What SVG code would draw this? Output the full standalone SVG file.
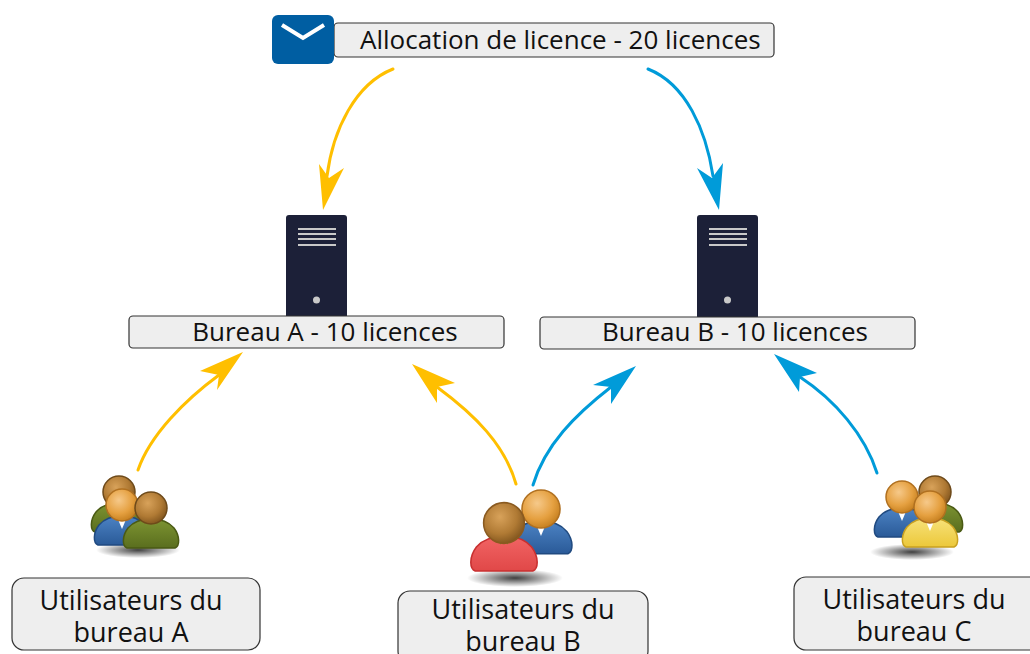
<svg xmlns="http://www.w3.org/2000/svg" xmlns:xlink="http://www.w3.org/1999/xlink" width="1030" height="654" viewBox="0 0 1030 654">
  <style>
    .box { fill: #eeeeee; stroke: #333333; stroke-width: 1.2; }
    .lbl { font-family: "Open Sans", "Noto Sans", "Liberation Sans", sans-serif; font-size: 26px; fill: #111111; }
    .usr { font-size: 27px; text-anchor: middle; }
    .srv { fill: #1c2038; }
    .srv-line { fill: #c9c9c9; }
    .yl { fill: none; stroke: #ffbf00; stroke-width: 3; stroke-linecap: round; }
    .bl { fill: none; stroke: #009bd9; stroke-width: 3; stroke-linecap: round; }
    .yh { fill: #ffbf00; }
    .bh { fill: #009bd9; }
  </style>
  <defs>
    <!-- shading for heads and bodies -->
    <radialGradient id="headOrange" cx="0.4" cy="0.35" r="0.7">
      <stop offset="0" stop-color="#f6c98a"/>
      <stop offset="0.6" stop-color="#e5a040"/>
      <stop offset="1" stop-color="#c27c1c"/>
    </radialGradient>
    <radialGradient id="headBrown" cx="0.4" cy="0.35" r="0.7">
      <stop offset="0" stop-color="#d8a25a"/>
      <stop offset="0.6" stop-color="#b07a34"/>
      <stop offset="1" stop-color="#7d521c"/>
    </radialGradient>
    <linearGradient id="bodyBlue" x1="0" y1="0" x2="0" y2="1">
      <stop offset="0" stop-color="#4c83c4"/>
      <stop offset="1" stop-color="#2a5a98"/>
    </linearGradient>
    <linearGradient id="bodyGreen" x1="0" y1="0" x2="0" y2="1">
      <stop offset="0" stop-color="#7d9432"/>
      <stop offset="1" stop-color="#5a6e1e"/>
    </linearGradient>
    <linearGradient id="bodyRed" x1="0" y1="0" x2="0" y2="1">
      <stop offset="0" stop-color="#f26464"/>
      <stop offset="1" stop-color="#e04848"/>
    </linearGradient>
    <linearGradient id="bodyYellow" x1="0" y1="0" x2="0" y2="1">
      <stop offset="0" stop-color="#f7e27a"/>
      <stop offset="1" stop-color="#ecc83a"/>
    </linearGradient>
    <radialGradient id="shadow" cx="0.5" cy="0.5" r="0.5">
      <stop offset="0" stop-color="#000" stop-opacity="0.75"/>
      <stop offset="1" stop-color="#000" stop-opacity="0"/>
    </radialGradient>
    <!-- person torso, origin at head centre -->
    <path id="torso" d="M -24,40 C -29,38 -29,28 -23,20 C -17,13 -9,11 0,11 C 9,11 17,13 23,20 C 29,28 29,38 24,40 Z"/>
    <path id="collar" d="M -5,12 L 0,24 L 5,12 Z" fill="#ffffff"/>
  </defs>

  <!-- connectors -->
  <g id="connectors">
    <path class="yl" d="M 393,69 C 355,84 333,130 327,176"/>
    <polygon class="yh" points="323,210 319,164 329,178 344,168"/>
    <path class="bl" d="M 648,69 C 686,84 706,130 713,176"/>
    <polygon class="bh" points="719,210 697,168 712,178 723,163"/>
    <path class="yl" d="M 138,470 C 150,435 185,400 219,375"/>
    <polygon class="yh" points="243,352 200,371 219,375 217,390"/>
    <path class="yl" d="M 516,484 C 505,445 475,415 437,387"/>
    <polygon class="yh" points="412,364 455,383 437,387 437,403"/>
    <path class="bl" d="M 533,485 C 545,445 575,415 611,387"/>
    <polygon class="bh" points="636,366 593,385 611,387 611,404"/>
    <path class="bl" d="M 877,473 C 865,435 835,400 800,377"/>
    <polygon class="bh" points="774,354 817,373 800,377 799,392"/>
  </g>

  <!-- licence allocation -->
  <g id="allocation">
    <rect class="box" x="334" y="23" width="440" height="34" rx="4"/>
    <rect x="272" y="15" width="62" height="49" rx="6" fill="#005ea2"/>
    <path d="M 282,25 L 303,38 L 324,25" fill="none" stroke="#ffffff" stroke-width="4"/>
    <text class="lbl" x="360" y="49">Allocation de licence - 20 licences</text>
  </g>

  <!-- office A -->
  <g id="bureauA">
    <rect class="srv" x="286" y="215" width="61" height="104" rx="3"/>
    <rect class="srv-line" x="298" y="228" width="38" height="2"/>
    <rect class="srv-line" x="298" y="233" width="38" height="2"/>
    <rect class="srv-line" x="298" y="238" width="38" height="2"/>
    <rect class="srv-line" x="298" y="244" width="38" height="2"/>
    <circle cx="316.5" cy="300" r="3.5" fill="#c9c9c9"/>
    <rect class="box" x="129" y="316" width="375" height="32" rx="4"/>
    <text class="lbl" x="325" y="341" text-anchor="middle">Bureau A - 10 licences</text>
  </g>

  <!-- office B -->
  <g id="bureauB">
    <rect class="srv" x="697" y="215" width="61" height="104" rx="3"/>
    <rect class="srv-line" x="709" y="228" width="38" height="2"/>
    <rect class="srv-line" x="709" y="233" width="38" height="2"/>
    <rect class="srv-line" x="709" y="238" width="38" height="2"/>
    <rect class="srv-line" x="709" y="244" width="38" height="2"/>
    <circle cx="727.5" cy="300" r="3.5" fill="#c9c9c9"/>
    <rect class="box" x="540" y="317" width="375" height="32" rx="4"/>
    <text class="lbl" x="735" y="341" text-anchor="middle">Bureau B - 10 licences</text>
  </g>

  <!-- users of office A -->
  <g id="usersA">
    <ellipse cx="138" cy="550" rx="42" ry="8" fill="url(#shadow)"/>
    <g transform="translate(119,492)">
      <use xlink:href="#torso" fill="url(#bodyGreen)" stroke="#4a5a14" stroke-width="1.5"/>
      <circle r="16" fill="url(#headBrown)" stroke="#6e4a1a" stroke-width="1.5"/>
    </g>
    <g transform="translate(122,505)">
      <use xlink:href="#torso" fill="url(#bodyBlue)" stroke="#204a80" stroke-width="1.5"/>
      <use xlink:href="#collar"/>
      <circle r="16" fill="url(#headOrange)" stroke="#b07020" stroke-width="1.5"/>
    </g>
    <g transform="translate(151,508)">
      <use xlink:href="#torso" fill="url(#bodyGreen)" stroke="#4a5a14" stroke-width="1.5"/>
      <circle r="16" fill="url(#headBrown)" stroke="#6e4a1a" stroke-width="1.5"/>
    </g>
    <rect class="box" x="12" y="578" width="248" height="72" rx="12"/>
    <text class="lbl usr" x="131" y="610">Utilisateurs du</text>
    <text class="lbl usr" x="131" y="642">bureau A</text>
  </g>

  <!-- users of office B -->
  <g id="usersB">
    <ellipse cx="515" cy="578" rx="48" ry="9" fill="url(#shadow)"/>
    <g transform="translate(541,509) scale(1.12)">
      <use xlink:href="#torso" fill="url(#bodyBlue)" stroke="#204a80" stroke-width="1.4"/>
      <use xlink:href="#collar"/>
      <circle r="17" fill="url(#headOrange)" stroke="#b07020" stroke-width="1.4"/>
    </g>
    <g transform="translate(504,523) scale(1.2)">
      <use xlink:href="#torso" fill="url(#bodyRed)" stroke="#c83030" stroke-width="1.3"/>
      <path d="M -6,12 L -3,18 L 0,13 Z M 6,12 L 3,18 L 0,13 Z" fill="#6a9a20"/>
      <circle r="17" fill="url(#headBrown)" stroke="#8a5a20" stroke-width="1.3"/>
    </g>
    <rect class="box" x="398" y="591" width="250" height="72" rx="12"/>
    <text class="lbl usr" x="523" y="619">Utilisateurs du</text>
    <text class="lbl usr" x="523" y="651">bureau B</text>
  </g>

  <!-- users of office C -->
  <g id="usersC">
    <ellipse cx="912" cy="552" rx="42" ry="8" fill="url(#shadow)"/>
    <g transform="translate(935,492)">
      <use xlink:href="#torso" fill="url(#bodyGreen)" stroke="#4a5a14" stroke-width="1.5"/>
      <circle r="16" fill="url(#headBrown)" stroke="#6e4a1a" stroke-width="1.5"/>
    </g>
    <g transform="translate(902,497)">
      <use xlink:href="#torso" fill="url(#bodyBlue)" stroke="#204a80" stroke-width="1.5"/>
      <use xlink:href="#collar"/>
      <circle r="16" fill="url(#headOrange)" stroke="#b07020" stroke-width="1.5"/>
    </g>
    <g transform="translate(930,507)">
      <use xlink:href="#torso" fill="url(#bodyYellow)" stroke="#c8a020" stroke-width="1.5"/>
      <use xlink:href="#collar"/>
      <circle r="16" fill="url(#headOrange)" stroke="#b07020" stroke-width="1.5"/>
    </g>
    <rect class="box" x="794" y="577" width="248" height="73" rx="12"/>
    <text class="lbl usr" x="914" y="609">Utilisateurs du</text>
    <text class="lbl usr" x="914" y="641">bureau C</text>
  </g>
</svg>
